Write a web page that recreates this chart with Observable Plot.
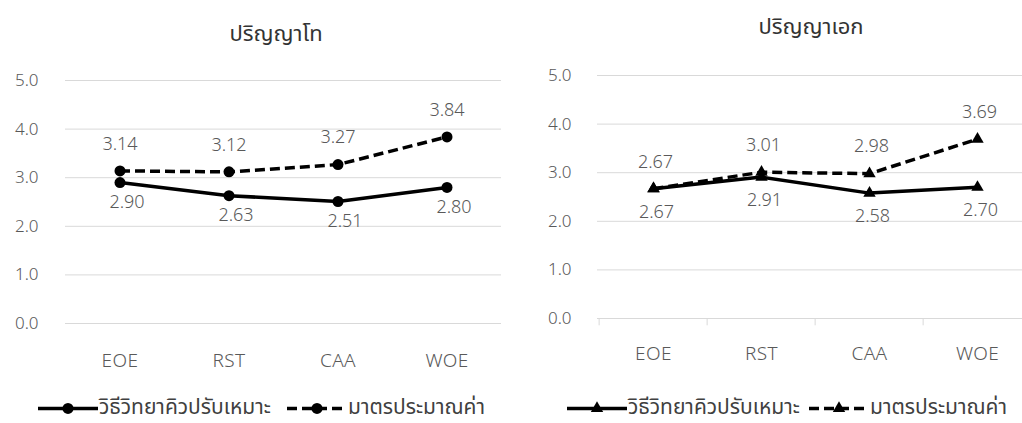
<!DOCTYPE html>
<html><head><meta charset="utf-8">
<script src="https://cdn.jsdelivr.net/npm/d3@7"></script>
<script src="https://cdn.jsdelivr.net/npm/@observablehq/plot@0.6"></script>
<style>
body{margin:0;background:#fff;}
#wrap{position:relative;width:1022px;height:423px;overflow:hidden;background:#fff;
  font-family:"Noto Sans Thai","Noto Sans Thai UI","Leelawadee UI",Tahoma,"Noto Sans","DejaVu Sans",sans-serif;}
.panel{position:absolute;top:0;}
.panel svg{max-width:none !important;}
.panel g[aria-label^="x-axis"] text{font-size:19px;letter-spacing:0.4px;}
.title{position:absolute;font-size:22px;color:#333;transform:translate(-50%,-50%);white-space:nowrap;line-height:1.2;}
.item{position:absolute;display:flex;align-items:center;font-size:21px;color:#404040;white-space:nowrap;transform:translateY(-50%);line-height:1.1;}
.item svg{display:block;}
</style></head>
<body><div id="wrap"></div>
<script>
const categories = ["EOE", "RST", "CAA", "WOE"];
const seriesNames = ["วิธีวิทยาคิวปรับเหมาะ", "มาตรประมาณค่า"];
const panelTitles = ["ปริญญาโท", "ปริญญาเอก"];
const masterAdaptive = [2.90, 2.63, 2.51, 2.80];
const masterRating = [3.14, 3.12, 3.27, 3.84];
const doctorAdaptive = [2.67, 2.91, 2.58, 2.70];
const doctorRating = [2.67, 3.01, 2.98, 3.69];
const yTicks = [0, 1, 2, 3, 4, 5];

const FONT = '"Noto Sans Thai","Noto Sans Thai UI","Leelawadee UI",Tahoma,"Noto Sans","DejaVu Sans",sans-serif';
const wrap = document.getElementById("wrap");

function rowsOf(adaptive, rating) {
  const rows = [];
  categories.forEach((c, i) => {
    rows.push({cat: c, v: adaptive[i], s: seriesNames[0]});
    rows.push({cat: c, v: rating[i], s: seriesNames[1]});
  });
  return rows;
}

function panel(opts) {
  const {adaptive, rating, symbol, r, width, ml, mr, mt, mb, left, xPad, yPad, boundary, dxA, dyA, dxR, dyR} = opts;
  const rows = rowsOf(adaptive, rating);
  const A = rows.filter(d => d.s === seriesNames[0]);
  const R = rows.filter(d => d.s === seriesNames[1]);
  const bw = (width - ml - mr) / categories.length;
  const marks = [
    Plot.ruleY(yTicks, {stroke: "#d9d9d9", strokeWidth: 1})
  ];
  if (boundary) {
    marks.push(Plot.ruleX(categories, {x: d => d, y1: 0, y2: -0.15, dx: -bw / 2, stroke: "#d9d9d9", strokeWidth: 1}));
  }
  marks.push(
    Plot.line(R, {x: "cat", y: "v", stroke: "#000", strokeWidth: 3.5, strokeDasharray: "10,5", strokeLinecap: "butt"}),
    Plot.line(A, {x: "cat", y: "v", stroke: "#000", strokeWidth: 3.5}),
    Plot.dot(rows, {x: "cat", y: "v", symbol: symbol, r: r, fill: "#000", stroke: "none"}),
    Plot.text(R, {x: "cat", y: "v", text: d => d.v.toFixed(2), dx: dxR, dy: dyR, fontSize: 18, fontWeight: 300, fill: "#595959"}),
    Plot.text(A, {x: "cat", y: "v", text: d => d.v.toFixed(2), dx: dxA, dy: dyA, fontSize: 18, fontWeight: 300, fill: "#595959"})
  );
  const svg = Plot.plot({
    width, height: 423,
    marginLeft: ml, marginRight: mr, marginTop: mt, marginBottom: mb,
    style: {fontFamily: FONT, fontSize: "17px", fontWeight: 300, color: "#595959", background: "transparent", overflow: "visible", maxWidth: "none"},
    x: {type: "band", domain: categories, padding: 0, label: null, tickSize: 0, tickPadding: xPad},
    y: {domain: [0, 5], ticks: yTicks, tickFormat: d3.format(".1f"), label: null, tickSize: 0, tickPadding: yPad},
    marks
  });
  const div = document.createElement("div");
  div.className = "panel";
  div.style.left = left + "px";
  div.style.width = width + "px";
  div.appendChild(svg);
  wrap.appendChild(div);
}

panel({adaptive: masterAdaptive, rating: masterRating, symbol: "circle", r: 5.5,
  width: 511, ml: 65, mr: 10, mt: 80, mb: 100, left: 0, xPad: 30, yPad: 27, boundary: false,
  dxA: 7, dyA: 20, dxR: 0, dyR: -27});
panel({adaptive: doctorAdaptive, rating: doctorRating, symbol: "triangle", r: 4.6,
  width: 530, ml: 86, mr: 9, mt: 75, mb: 105, left: 511, xPad: 28, yPad: 26, boundary: true,
  dxA: 3, dyA: 23, dxR: 2, dyR: -27});

function title(text, x, y) {
  const d = document.createElement("div");
  d.className = "title";
  d.style.left = x + "px"; d.style.top = y + "px";
  d.textContent = text;
  wrap.appendChild(d);
}
title(panelTitles[0], 276, 35);
title(panelTitles[1], 811, 28);

function swatch(dashed, symbol) {
  const ns = "http://www.w3.org/2000/svg";
  const s = document.createElementNS(ns, "svg");
  s.setAttribute("width", 60); s.setAttribute("height", 16);
  const l = document.createElementNS(ns, "line");
  l.setAttribute("x1", 0); l.setAttribute("x2", 60); l.setAttribute("y1", 8); l.setAttribute("y2", 8);
  l.setAttribute("stroke", "#000"); l.setAttribute("stroke-width", 3.5);
  if (dashed) l.setAttribute("stroke-dasharray", "10,5");
  s.appendChild(l);
  if (symbol === "circle") {
    const c = document.createElementNS(ns, "circle");
    c.setAttribute("cx", 30); c.setAttribute("cy", 8); c.setAttribute("r", 5.5); c.setAttribute("fill", "#000");
    s.appendChild(c);
  } else {
    const p = document.createElementNS(ns, "path");
    p.setAttribute("d", d3.symbol(d3.symbolTriangle, Math.PI * 4.6 * 4.6)());
    p.setAttribute("transform", "translate(30,8)");
    p.setAttribute("fill", "#000");
    s.appendChild(p);
  }
  return s;
}
function legendItem(x, y, label, dashed, symbol) {
  const d = document.createElement("div");
  d.className = "item";
  d.style.left = x + "px"; d.style.top = y + "px";
  d.appendChild(swatch(dashed, symbol));
  const t = document.createElement("span");
  t.textContent = label;
  t.style.marginLeft = "1px";
  d.appendChild(t);
  wrap.appendChild(d);
}
legendItem(38, 408, seriesNames[0], false, "circle");
legendItem(287, 408, seriesNames[1], true, "circle");
legendItem(567, 408, seriesNames[0], false, "triangle");
legendItem(809, 408, seriesNames[1], true, "triangle");
</script></body></html>
